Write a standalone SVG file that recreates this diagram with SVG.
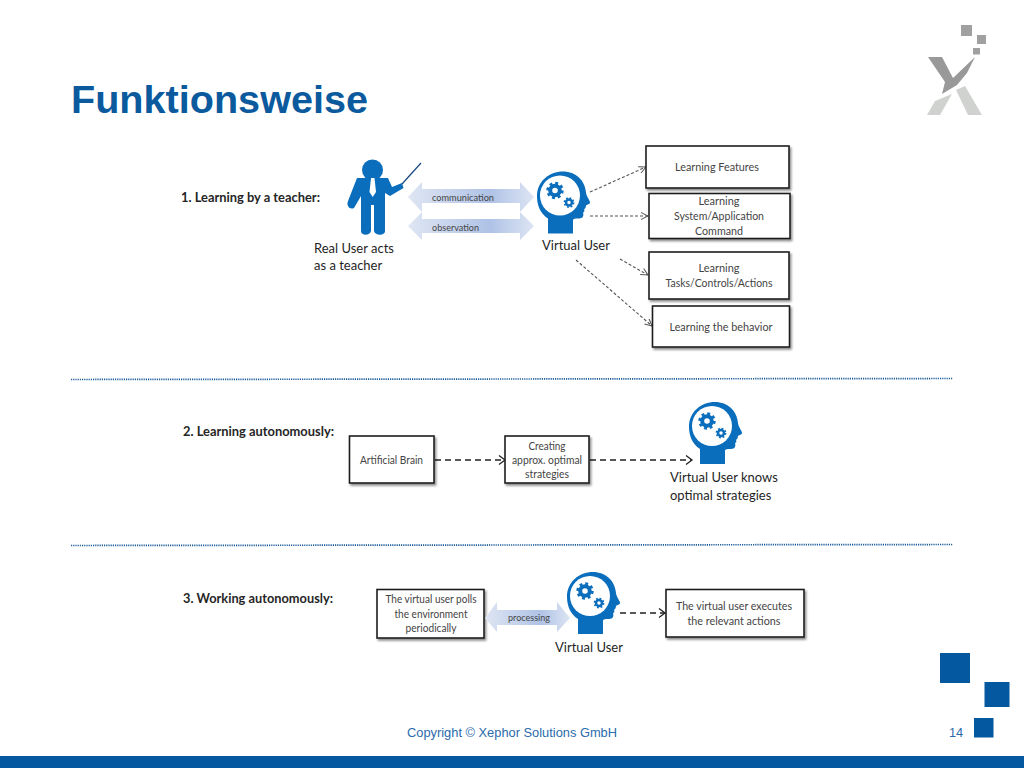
<svg xmlns="http://www.w3.org/2000/svg" width="1024" height="768" viewBox="0 0 1024 768">
<style>
text{font-family:"Lato","Open Sans",sans-serif;fill:#2b2b2b}
.box{fill:#fff;stroke:#1e1e1e;stroke-width:1.6;filter:url(#sh)}
.bt{font-size:11.5px;fill:#444;text-anchor:middle}
.lab{font-size:13px;fill:#1f1f1f}
.sec{font-size:13px;font-weight:700;fill:#262626}
.arr{font-size:9.5px;fill:#444}
.thin{fill:none;stroke:#555;stroke-width:1.1;stroke-dasharray:3 2;marker-end:url(#oh)}
.thick{fill:none;stroke:#222;stroke-width:1.4;stroke-dasharray:6 4;marker-end:url(#oh2)}
.dots{stroke:#1d5c9b;stroke-width:1.7;stroke-dasharray:1.2 1}
.dbl{fill:url(#grad)}
.sq{fill:#03589f}
.lg{fill:#a0a0a0}
.lgl{fill:#d0d2d0}
</style>
<defs>
<filter id="sh" x="-10%" y="-10%" width="125%" height="130%"><feDropShadow dx="1.5" dy="2" stdDeviation="1.2" flood-color="#000" flood-opacity="0.45"/></filter>
<linearGradient id="grad" x1="0" x2="1" y1="0" y2="0"><stop offset="0" stop-color="#dfe6f3"/><stop offset="0.65" stop-color="#afc2e6"/><stop offset="1" stop-color="#dde5f3"/></linearGradient>
<marker id="oh" markerWidth="10" markerHeight="10" refX="8" refY="4" orient="auto" markerUnits="userSpaceOnUse"><path d="M1 0.5L8 4L1 7.5" fill="none" stroke="#555" stroke-width="1"/></marker>
<marker id="oh2" markerWidth="10" markerHeight="12" refX="8" refY="5" orient="auto" markerUnits="userSpaceOnUse"><path d="M2 0.5L8 5L2 9.5" fill="none" stroke="#222" stroke-width="1.3"/></marker>
<g id="gear"><circle r="4.8" fill="none" stroke="#0a6ebd" stroke-width="4"/><circle r="7.4" fill="none" stroke="#0a6ebd" stroke-width="2.6" stroke-dasharray="2.9 2.91"/></g>
<g id="head">
<path fill="#0a6ebd" d="M11 62V47C3 42 0 33 0 25C0 10 12 0 26 0C39 0 48 9 49 21C49 24 53 29 53 31C53 33 49 33 49 34C49 36 48 37 47 38C48 39 47 41 46 41C47 44 46 47 42 47C39 47 36 47 36 49V62Z"/>
<circle cx="23" cy="24" r="20" fill="#fff"/>
<use href="#gear" transform="translate(18 19)"/>
<use href="#gear" transform="translate(32 31) scale(.62)"/>
</g>
</defs>
<rect width="1024" height="768" fill="#fff"/>
<text x="71" y="113" textLength="297" lengthAdjust="spacingAndGlyphs" style="font-family:'Liberation Sans',Arial,sans-serif;font-size:39.5px;font-weight:700;fill:#0b5a9e">Funktionsweise</text>
<g id="logo">
<rect class="lg" x="961" y="25" width="11" height="11"/><rect class="lg" x="977" y="35" width="9" height="9"/><rect class="lg" x="973" y="48" width="7" height="6.500"/>
<path fill="#999" d="M928 57H942L953 78L975 57L967 73L957 85L942 94L945 82Z"/>
<path class="lgl" d="M927 115L935 101L952 94L940 115Z"/>
<path class="lgl" d="M956 90L965 86L982 115L968 115Z"/>
</g>
<g id="section-labels">
<text class="sec" x="181" y="202" textLength="139" lengthAdjust="spacingAndGlyphs">1. Learning by a teacher:</text>
<text class="sec" x="183" y="436" textLength="151" lengthAdjust="spacingAndGlyphs">2. Learning autonomously:</text>
<text class="sec" x="183" y="603" textLength="150" lengthAdjust="spacingAndGlyphs">3. Working autonomously:</text>
</g>
<g id="teacher">
<circle cx="372.500" cy="170" r="10.500" fill="#0a6ebd"/>
<path fill="#0a6ebd" d="M357 178H388L392 187L402 183L403.500 188L390 196L385 193V231C385 236 375 236 374 231V205H371V231C370 236 361 236 361 231V196L354 208C350 210 346 206 348 201Z"/>
<path fill="#fff" d="M371 178H374.500L376 192L372.700 197L369.500 192Z"/>
<line x1="402" y1="184" x2="421" y2="163" stroke="#16487e" stroke-width="1.200"/>
<text class="lab" x="314" y="253">Real User acts</text>
<text class="lab" x="314" y="270">as a teacher</text>
</g>
<g id="arrow-communication">
<path class="dbl" d="M408 197L422 182V189H520V182L534 197L520 212V203H422V212Z"/>
<text class="arr" x="432" y="201" textLength="62" lengthAdjust="spacingAndGlyphs">communication</text>
</g>
<g id="arrow-observation">
<path class="dbl" d="M408 226L422 212V219H520V212L534 226L520 240V233H422V240Z"/>
<text class="arr" x="432" y="231" textLength="47" lengthAdjust="spacingAndGlyphs">observation</text>
</g>
<g id="virtual-user-1">
<use href="#head" x="537" y="171.500"/>
<text class="lab" x="542" y="250">Virtual User</text>
</g>
<g id="connectors">
<path class="thin" d="M590 192L646 167"/>
<path class="thin" d="M590 216H648"/>
<path class="thin" d="M620 259L648 275"/>
<path class="thin" d="M576 260L652 326"/>
<path class="thick" d="M435 460H505"/>
<path class="thick" d="M590 460H692"/>
<path class="thick" d="M620 613H665"/>
</g>
<g id="box-features"><rect class="box" x="646" y="146" width="143" height="42"/><text class="bt" x="717" y="171" textLength="84" lengthAdjust="spacingAndGlyphs">Learning Features</text></g>
<g id="box-command"><rect class="box" x="649" y="193.500" width="141" height="45"/><text class="bt" x="719" y="205" textLength="41" lengthAdjust="spacingAndGlyphs">Learning</text><text class="bt" x="719" y="220" textLength="90" lengthAdjust="spacingAndGlyphs">System/Application</text><text class="bt" x="719" y="235" textLength="48" lengthAdjust="spacingAndGlyphs">Command</text></g>
<g id="box-tasks"><rect class="box" x="649" y="252" width="140" height="47"/><text class="bt" x="719" y="272" textLength="41" lengthAdjust="spacingAndGlyphs">Learning</text><text class="bt" x="719" y="287" textLength="107" lengthAdjust="spacingAndGlyphs">Tasks/Controls/Actions</text></g>
<g id="box-behavior"><rect class="box" x="652.500" y="306" width="137" height="41"/><text class="bt" x="721" y="331" textLength="103" lengthAdjust="spacingAndGlyphs">Learning the behavior</text></g>
<line class="dots" x1="71" y1="379.500" x2="953" y2="378.500"/>
<line class="dots" x1="71" y1="545.500" x2="953" y2="544.500"/>
<g id="box-brain"><rect class="box" x="349.500" y="436" width="84.500" height="47"/><text class="bt" x="391.500" y="464" textLength="63" lengthAdjust="spacingAndGlyphs">Artificial Brain</text></g>
<g id="box-creating"><rect class="box" x="505" y="436" width="84" height="47"/><text class="bt" x="547" y="450" textLength="37" lengthAdjust="spacingAndGlyphs">Creating</text><text class="bt" x="547" y="464" textLength="70" lengthAdjust="spacingAndGlyphs">approx. optimal</text><text class="bt" x="547" y="478" textLength="44" lengthAdjust="spacingAndGlyphs">strategies</text></g>
<g id="virtual-user-2">
<use href="#head" x="689" y="402"/>
<text class="lab" x="670" y="482">Virtual User knows</text>
<text class="lab" x="670" y="500">optimal strategies</text>
</g>
<g id="box-polls"><rect class="box" x="377" y="589.500" width="107" height="48.500"/><text class="bt" x="431" y="603" textLength="91" lengthAdjust="spacingAndGlyphs">The virtual user polls</text><text class="bt" x="431" y="618" textLength="73" lengthAdjust="spacingAndGlyphs">the environment</text><text class="bt" x="431" y="632" textLength="51" lengthAdjust="spacingAndGlyphs">periodically</text></g>
<g id="arrow-processing">
<path class="dbl" d="M485 618L497 602V610H557V602L570 618L557 632V625H497V632Z"/>
<text class="arr" x="508" y="621" textLength="42" lengthAdjust="spacingAndGlyphs">processing</text>
</g>
<g id="virtual-user-3">
<use href="#head" x="567" y="572"/>
<text class="lab" x="555" y="652">Virtual User</text>
</g>
<g id="box-executes"><rect class="box" x="666" y="589.500" width="138" height="47.500"/><text class="bt" x="734" y="610" textLength="116" lengthAdjust="spacingAndGlyphs">The virtual user executes</text><text class="bt" x="734" y="625" textLength="93" lengthAdjust="spacingAndGlyphs">the relevant actions</text></g>
<g id="footer">
<rect class="sq" x="940" y="653" width="30" height="30"/>
<rect class="sq" x="984.500" y="682" width="25" height="25"/>
<rect class="sq" x="974" y="718" width="19.500" height="19.500"/>
<rect x="0" y="756" width="1024" height="12" fill="#03589f"/>
<text x="407" y="737" textLength="210" lengthAdjust="spacingAndGlyphs" style="font-family:'Liberation Sans',Arial,sans-serif;font-size:12.800px;fill:#2a6bab">Copyright © Xephor Solutions GmbH</text>
<text x="949" y="737" style="font-family:'Liberation Sans',Arial,sans-serif;font-size:12.800px;fill:#2a6bab">14</text>
</g>
</svg>
